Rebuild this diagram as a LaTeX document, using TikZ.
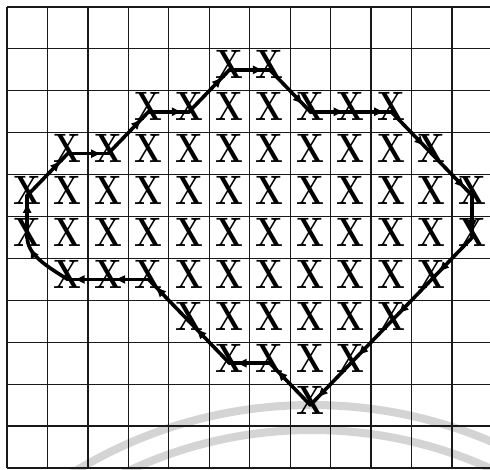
\documentclass[tikz,border=0pt]{standalone}
\usetikzlibrary{arrows.meta,decorations.markings}
\tikzset{
  gridline/.style={line width=1.2pt, black!90},
  route/.style={line width=3.6pt, line cap=round, line join=round},
  hop/.style={route, postaction={decorate},
    decoration={markings, mark=at position 0.8 with {\arrow{Triangle[length=9pt,width=8pt]}}}},
  xmark/.style={inner sep=0pt, font=\fontsize{41}{41}\selectfont\bfseries, xscale=0.8},
  wmark/.style={line width=8pt, black!17},
}
\begin{document}
\begin{tikzpicture}[x=1pt,y=-1pt]
\useasboundingbox (0,0) rectangle (490,470);
\fill[white] (0,0) rectangle (490,470);
% watermark arcs
\begin{scope}
  \clip (0,0) rectangle (490,470);
  \draw[wmark] (312,861) circle[radius=456];
  \draw[wmark] (312,861) circle[radius=431];
\end{scope}
% grid
\foreach \i in {0,...,11} \draw[gridline] ({7+40.45*\i},7) -- ({7+40.45*\i},468);
\foreach \j in {0,...,11} \draw[gridline] (7,{7+41.9*\j}) -- (490,{7+41.9*\j});
% X marks
\foreach \r/\a/\b in {1/5/6, 2/3/9, 3/1/10, 4/0/11, 5/0/11, 6/1/10, 7/4/9, 8/5/8, 9/7/7}
  \foreach \c in {\a,...,\b}
    \node[xmark] (x\r-\c) at ({27.2+40.45*\c},{28+41.9*\r-5}) {X};
% path vertices (cell centres)
\foreach \n/\c/\r in {1/5/1, 2/6/1, 3/7/2, 4/8/2, 5/9/2, 6/10/3, 7/11/4, 8/11/5,
  9/10/6, 10/9/7, 11/8/8, 12/7/9, 13/6/8, 14/5/8, 15/4/7, 16/3/6, 17/2/6, 18/1/6,
  19/0/5, 20/0/4, 21/1/3, 22/2/3, 23/3/2, 24/4/2}
  \coordinate (p\n) at ({27.2+40.45*\c},{28+41.9*\r});
\foreach \a/\b in {1/2,2/3,3/4,4/5,5/6,6/7,7/8,8/9,9/10,10/11,11/12,12/13,13/14,
  14/15,15/16,16/17,17/18,19/20,20/21,21/22,22/23,23/24,24/1}
  \draw[hop] (p\a) -- (p\b);
% the rounded left side
\draw[hop] (p18) .. controls (45,265) and (28,255) .. (p19);
\end{tikzpicture}
\end{document}
